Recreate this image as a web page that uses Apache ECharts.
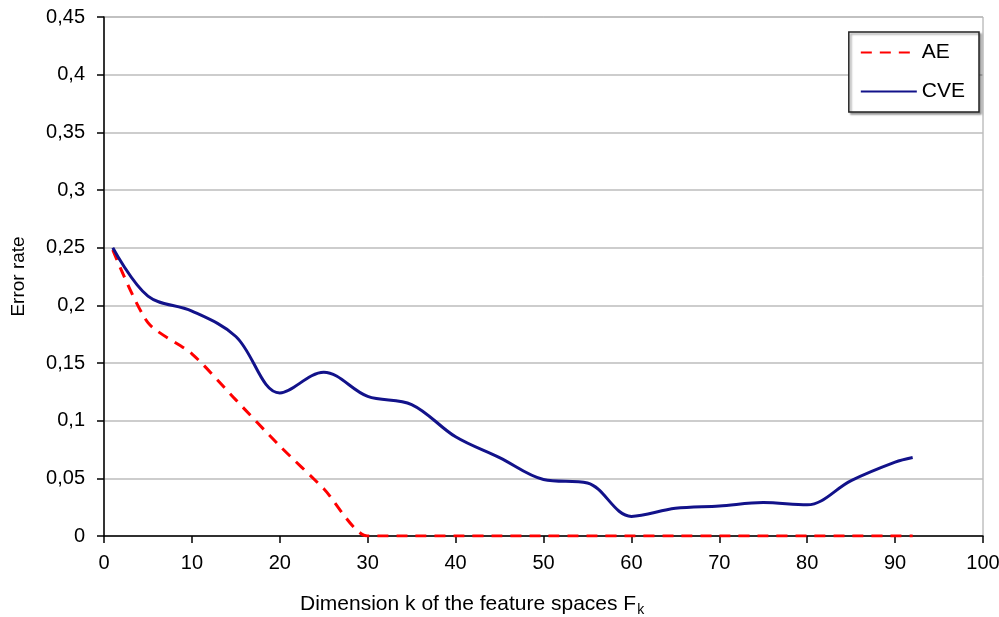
<!DOCTYPE html>
<html>
<head>
<meta charset="utf-8">
<script src="https://cdn.jsdelivr.net/npm/echarts@6/dist/echarts.min.js"></script>
<style>
  html, body { margin: 0; padding: 0; background: #fff; }
  #chart { width: 999px; height: 617px; }
</style>
</head>
<body>
<div id="chart"></div>
<script>
  const dims = [1, 5, 10, 15, 20, 25, 30, 35, 40, 45, 50, 55, 60, 65, 70, 75, 80, 85, 90, 92];
  const aeValues = [0.248, 0.185, 0.158, 0.118, 0.078, 0.041, 0, 0, 0, 0, 0, 0, 0, 0, 0, 0, 0, 0, 0, 0];
  const cveValues = [0.25, 0.208, 0.195, 0.173, 0.124, 0.142, 0.121, 0.114, 0.086, 0.068, 0.049, 0.046, 0.017, 0.024, 0.026, 0.029, 0.027, 0.048, 0.064, 0.068];

  const font = 'Liberation Sans, Arial, sans-serif';
  const commaNum = v => String(+v.toFixed(2)).replace('.', ',');
  const pairs = vals => dims.map((d, i) => [d, vals[i]]);

  const chart = echarts.init(document.getElementById('chart'), null, { renderer: 'canvas' });
  chart.setOption({
    animation: false,
    backgroundColor: '#fff',
    textStyle: { fontFamily: font },
    grid: {
      left: 104, right: 16, top: 17, bottom: 81,
      outerBoundsMode: 'none',
      show: true, borderColor: '#a0a0a0', borderWidth: 1
    },
    legend: {
      orient: 'vertical',
      right: 20,
      top: 32,
      itemWidth: 56,
      itemHeight: 4,
      itemGap: 18,
      padding: [10, 14, 10, 11],
      backgroundColor: '#fff',
      borderColor: '#222',
      borderWidth: 1.5,
      shadowColor: 'rgba(0,0,0,0.35)',
      shadowOffsetX: 2,
      shadowOffsetY: 2,
      shadowBlur: 2,
      itemStyle: { opacity: 0 },
      textStyle: { fontSize: 21, color: '#000', fontFamily: font },
      data: ['AE', 'CVE']
    },
    xAxis: {
      type: 'value',
      min: 0,
      max: 100,
      interval: 10,
      axisLine: { lineStyle: { color: '#000', width: 1.5 } },
      axisTick: { show: true, length: 7, lineStyle: { color: '#000', width: 1.5 } },
      axisLabel: { fontSize: 20, color: '#000', margin: 17 },
      splitLine: { show: false }
    },
    yAxis: {
      type: 'value',
      min: 0,
      max: 0.45,
      interval: 0.05,
      name: 'Error rate',
      nameLocation: 'middle',
      nameGap: 76,
      nameTextStyle: { fontSize: 19, color: '#000' },
      axisLine: { show: true, lineStyle: { color: '#000', width: 1.5 } },
      axisTick: { show: true, length: 7, lineStyle: { color: '#000', width: 1.5 } },
      axisLabel: { fontSize: 20, color: '#000', margin: 19, formatter: commaNum },
      splitLine: { lineStyle: { color: '#bdbdbd', width: 1.5 } }
    },
    graphic: [{
      type: 'text',
      left: 300,
      top: 594,
      style: {
        text: 'Dimension k of the feature spaces {f|F}{s|k}',
        font: '21px ' + font,
        fill: '#000',
        rich: {
          f: { fontSize: 21, fontFamily: font, fill: '#000' },
          s: { fontSize: 14, fontFamily: font, fill: '#000', verticalAlign: 'bottom', padding: [12, 0, 0, 1] }
        }
      }
    }],
    series: [
      {
        name: 'AE',
        type: 'line',
        data: pairs(aeValues),
        smooth: 0.25,
        symbol: 'none',
        z: 3,
        lineStyle: { color: '#ff0000', width: 3, type: [11, 8] },
        itemStyle: { color: '#ff0000' }
      },
      {
        name: 'CVE',
        type: 'line',
        data: pairs(cveValues),
        smooth: 0.35,
        symbol: 'none',
        z: 4,
        lineStyle: { color: '#12128a', width: 3 },
        itemStyle: { color: '#12128a' }
      }
    ]
  });
</script>
</body>
</html>
